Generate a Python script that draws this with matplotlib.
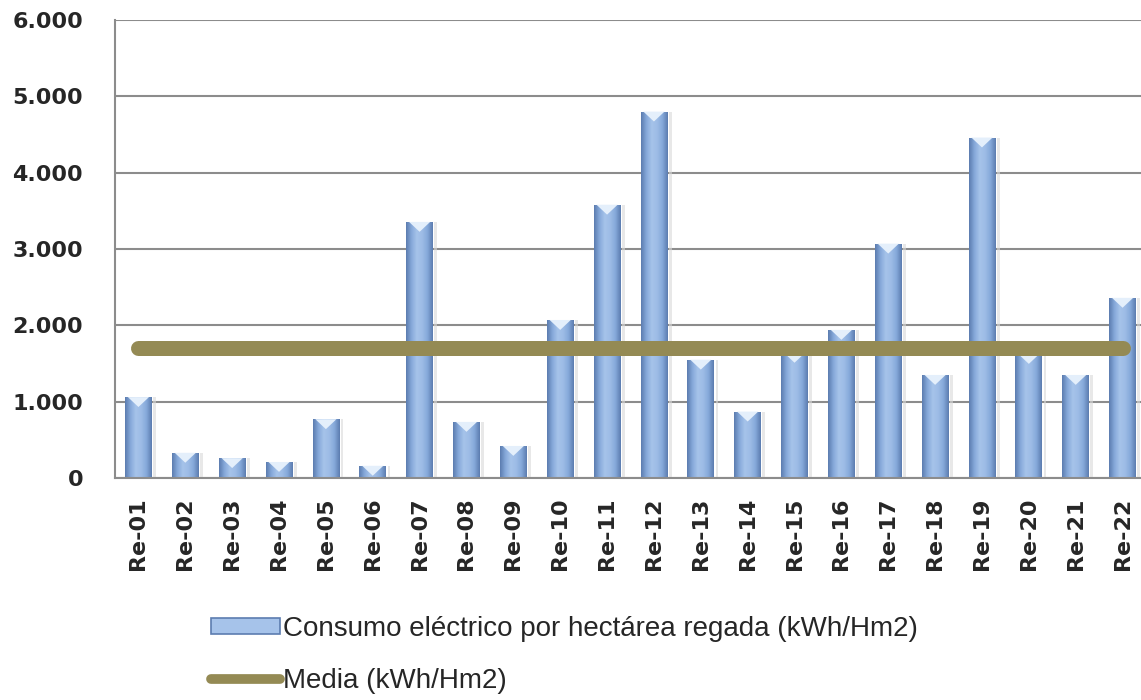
import numpy as np
import matplotlib
matplotlib.use("Agg")
import matplotlib.pyplot as plt
from matplotlib.colors import LinearSegmentedColormap
from matplotlib.patches import Polygon, Patch
from matplotlib.lines import Line2D
from matplotlib.ticker import FuncFormatter

# Consumo por regante (kWh/Hm2)
regantes = ["Re-01", "Re-02", "Re-03", "Re-04", "Re-05", "Re-06", "Re-07", "Re-08",
            "Re-09", "Re-10", "Re-11", "Re-12", "Re-13", "Re-14", "Re-15", "Re-16",
            "Re-17", "Re-18", "Re-19", "Re-20", "Re-21", "Re-22"]
consumo = [1060, 330, 260, 210, 770, 160, 3355, 735, 420, 2070, 3580, 4800,
           1550, 870, 1640, 1940, 3070, 1350, 4460, 1625, 1350, 2360]
media = 1700
yticks = [0, 1000, 2000, 3000, 4000, 5000, 6000]

BAR_W = 0.57
OLIVE = "#948A54"
GRID = "#8C8C8C"
TXT = "#262626"

fig = plt.figure(figsize=(11.41, 7.0), dpi=100)
ax = fig.add_axes([115 / 1141, 1 - 478 / 700, 1031 / 1141, 458 / 700])

x = np.arange(len(regantes))
bars = ax.bar(x, consumo, width=BAR_W, color="#8FB2E0", zorder=2, linewidth=0)

# horizontal bevel gradient clipped to each bar
bevel = LinearSegmentedColormap.from_list(
    "bevel", ["#5C7DB0", "#86A9DA", "#A6C3EA", "#9DBCE6", "#86A9DA", "#5C7DB0"])
grad = np.linspace(0, 1, 64).reshape(1, -1)
for b, v in zip(bars, consumo):
    x0 = b.get_x()
    im = ax.imshow(grad, cmap=bevel, aspect="auto", zorder=2.1,
                   extent=(x0, x0 + BAR_W, 0, v), interpolation="bilinear")
    im.set_clip_path(b)
    # light notch on the top face
    notch = 130
    ax.add_patch(Polygon([(x0 + 0.06, v), (x0 + BAR_W - 0.06, v),
                          (x0 + BAR_W / 2, v - notch)],
                         closed=True, facecolor="#E4EFFB", edgecolor="none",
                         zorder=2.2))
    # soft shadow to the right
    ax.bar(x0 + BAR_W + 0.03, v, width=0.06, align="edge",
           color="#D9D9D9", alpha=0.6, zorder=1.5, linewidth=0)

ax.plot([x[0], x[-1]], [media, media], color=OLIVE, linewidth=10.8,
        solid_capstyle="round", zorder=3)

ax.set_xlim(-0.5, len(regantes) - 0.5)
ax.set_ylim(0, 6000)
ax.set_yticks(yticks)
ax.yaxis.set_major_formatter(FuncFormatter(lambda v, p: f"{int(v):,}".replace(",", ".")))
ax.set_xticks(x)
ax.set_xticklabels(regantes, rotation=90)

ax.grid(axis="y", color=GRID, linewidth=1.5, zorder=0)
ax.set_axisbelow(True)
for s in ["top", "right"]:
    ax.spines[s].set_visible(False)
for s in ["left", "bottom"]:
    ax.spines[s].set_color(GRID)
    ax.spines[s].set_linewidth(1.5)

ax.tick_params(axis="y", length=0, pad=23, labelsize=16, labelcolor=TXT)
ax.tick_params(axis="x", length=0, pad=14, labelsize=16, labelcolor=TXT)
for lbl in ax.get_xticklabels() + ax.get_yticklabels():
    lbl.set_fontweight("bold")

handles = [Patch(facecolor="#A6C3EA", edgecolor="#5C7DB0", linewidth=1.2),
           Line2D([0], [0], color=OLIVE, linewidth=7, solid_capstyle="round")]
labels = ["Consumo eléctrico por hectárea regada (kWh/Hm2)", "Media (kWh/Hm2)"]
leg = fig.legend(handles, labels, loc="upper left", bbox_to_anchor=(197 / 1141, 1 - 602 / 700),
                 frameon=False, handlelength=2.5, handleheight=0.5, handletextpad=0.1,
                 labelspacing=0.95, borderpad=0,
                 prop={"family": ["Liberation Sans", "DejaVu Sans"], "size": 20})
for t in leg.get_texts():
    t.set_color(TXT)

fig.savefig("out.png", dpi=100)
